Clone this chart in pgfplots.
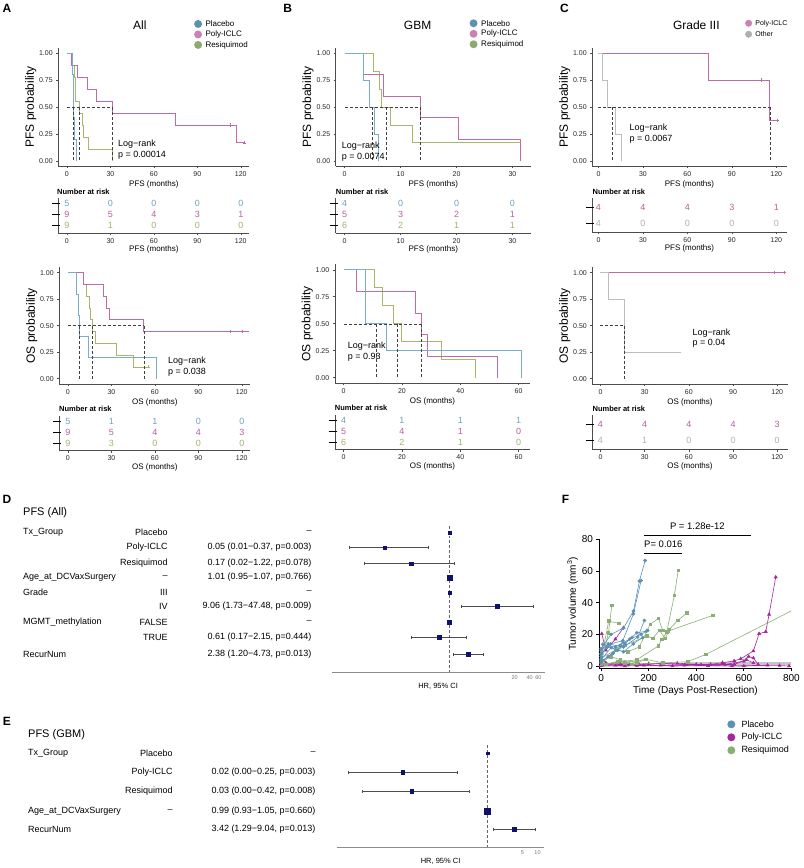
\documentclass[border=0pt]{standalone}
\usepackage{pgfplots}
\pgfplotsset{compat=1.18}
\usepackage{fontspec}
\setmainfont{Liberation Sans}
\setsansfont{Liberation Sans}

\definecolor{cPla}{HTML}{7AADC9}
\definecolor{cPol}{HTML}{C06BA7}
\definecolor{cRes}{HTML}{A5B96C}
\definecolor{cOth}{HTML}{BDBDBD}
\definecolor{rPla}{HTML}{6DA3C4}
\definecolor{rPol}{HTML}{B5609C}
\definecolor{rRes}{HTML}{A2B266}
\definecolor{rOth}{HTML}{B0B0B0}
\definecolor{lPla}{HTML}{5E92B0}
\definecolor{lPol}{HTML}{C983B4}
\definecolor{lRes}{HTML}{8EAA72}
\definecolor{lOth}{HTML}{AFAFAF}
\definecolor{fPla}{HTML}{5A91B4}
\definecolor{fPol}{HTML}{A4279F}
\definecolor{fRes}{HTML}{8BAE74}
\definecolor{navy}{HTML}{10106E}

\pgfplotsset{
  km/.style={scale only axis, anchor=south west,
    axis x line*=bottom, axis y line*=left,
    axis line style={black!70, line width=0.5pt},
    tick style={black!70, line width=0.5pt},
    tick align=outside, major tick length=2pt,
    ymin=-0.05, ymax=1.05, ytick={0,0.25,0.5,0.75,1},
    yticklabels={0.00,0.25,0.50,0.75,1.00},
    tick label style={font=\fontsize{7}{8}\selectfont, text=black!85},
    /pgf/number format/assume math mode=true,
    xlabel style={font=\fontsize{8}{9}\selectfont, yshift=3pt},
    ylabel style={font=\fontsize{12}{13}\selectfont, yshift=-4pt},
  },
  rt/.style={scale only axis, anchor=south west,
    axis x line*=bottom, axis y line*=left,
    axis line style={black!70, line width=0.5pt},
    tick style={black!70, line width=0.5pt},
    tick align=outside, major tick length=2pt,
    ytick=\empty, clip=false,
    tick label style={font=\fontsize{7}{8}\selectfont, text=black!85},
    /pgf/number format/assume math mode=true,
    xlabel style={font=\fontsize{8}{9}\selectfont, yshift=4pt},
  },
  km line/.style={const plot, line width=0.7pt, mark=none},
  med/.style={densely dashed, black!75, line width=0.4pt, mark=none},
  cens/.style={only marks, mark=+, mark size=1.6pt, line width=0.5pt},
  fp/.style={fPla, line width=0.6pt, mark=*, mark size=1.5pt},
  fq/.style={fPol, line width=0.6pt, mark=triangle*, mark size=1.7pt},
  fr/.style={fRes, line width=0.6pt, mark=square*, mark size=1.3pt},
}

\newcommand{\riskrow}[2]{\addplot[draw=none, mark=none, nodes near coords, point meta=explicit symbolic, nodes near coords style={anchor=center, text=#1, font=\fontsize{9}{9}\selectfont}] coordinates {#2};}

\begin{document}
\begin{tikzpicture}
\path (0pt,0pt) rectangle (800pt,-868pt);

% ================= A PFS
\begin{axis}[km, at={(58.3pt,-166.4pt)}, width=191.4pt, height=118.8pt, xmin=-6, xmax=126,
  xtick={0,30,60,90,120}, xlabel={PFS (months)}, ylabel={PFS probability}]
\addplot[km line, cRes] coordinates {(0,1)(3,0.889)(5,0.778)(5.5,0.667)(6,0.556)(8.3,0.444)(10.5,0.333)(11,0.222)(15,0.111)(31.3,0)};
\addplot[km line, cPol] coordinates {(0,1)(3,0.889)(7,0.778)(14,0.667)(20,0.556)(31.5,0.444)(75,0.333)(117,0.167)(122.5,0.167)};
\addplot[km line, cPla] coordinates {(0,1)(4,0.8)(4.3,0.6)(4.6,0.4)(5.2,0.2)(6.2,0)};
\addplot[cens, cPol] coordinates {(113,0.333)(122.5,0.167)};
\addplot[med] coordinates {(0,0.5)(31.5,0.5)};
\addplot[med] coordinates {(4.6,0.5)(4.6,0)};
\addplot[med] coordinates {(8.3,0.5)(8.3,0)};
\addplot[med] coordinates {(31.5,0.5)(31.5,0)};
\end{axis}
\begin{axis}[rt, at={(58.3pt,-233pt)}, width=191.4pt, height=35pt, xmin=-6, xmax=126, ymin=0.3636, ymax=3.545,
  xtick={0,30,60,90,120}, xlabel={PFS (months)}]
\riskrow{rPla}{(0,3)[5] (30,3)[0] (60,3)[0] (90,3)[0] (120,3)[0]}
\riskrow{rPol}{(0,2)[9] (30,2)[5] (60,2)[4] (90,2)[3] (120,2)[1]}
\riskrow{rRes}{(0,1)[9] (30,1)[1] (60,1)[0] (90,1)[0] (120,1)[0]}
\draw[black, line width=1.1pt] (axis cs:-6,3) ++(-6pt,0pt) -- ++(8pt,0pt);
\draw[black, line width=1.1pt] (axis cs:-6,2) ++(-6pt,0pt) -- ++(8pt,0pt);
\draw[black, line width=1.1pt] (axis cs:-6,1) ++(-6pt,0pt) -- ++(8pt,0pt);
\end{axis}

% ================= A OS
\begin{axis}[km, at={(59.3pt,-384.3pt)}, width=191.4pt, height=116.6pt, xmin=-6, xmax=126,
  xtick={0,30,60,90,120}, xlabel={OS (months)}, ylabel={OS probability}]
\addplot[km line, cRes] coordinates {(0,1)(10.3,0.889)(12.6,0.778)(15,0.667)(15.5,0.556)(17,0.444)(18.8,0.333)(33.4,0.222)(45,0.111)(55.4,0.111)};
\addplot[km line, cPol] coordinates {(0,1)(10.8,0.889)(24.5,0.778)(26.8,0.667)(28.6,0.556)(52.4,0.444)(125,0.444)};
\addplot[km line, cPla] coordinates {(0,1)(5.7,0.8)(6.9,0.6)(7.6,0.4)(14.2,0.2)(61,0)};
\addplot[cens, cPol] coordinates {(112,0.444)(120,0.444)};
\addplot[cens, cRes] coordinates {(55.4,0.111)};
\addplot[med] coordinates {(0,0.5)(52.4,0.5)};
\addplot[med] coordinates {(7.6,0.5)(7.6,0)};
\addplot[med] coordinates {(17,0.5)(17,0)};
\addplot[med] coordinates {(52.4,0.5)(52.4,0)};
\end{axis}
\begin{axis}[rt, at={(59.3pt,-451pt)}, width=191.4pt, height=35pt, xmin=-6, xmax=126, ymin=0.3636, ymax=3.545,
  xtick={0,30,60,90,120}, xlabel={OS (months)}]
\riskrow{rPla}{(0,3)[5] (30,3)[1] (60,3)[1] (90,3)[0] (120,3)[0]}
\riskrow{rPol}{(0,2)[9] (30,2)[5] (60,2)[4] (90,2)[4] (120,2)[3]}
\riskrow{rRes}{(0,1)[9] (30,1)[3] (60,1)[0] (90,1)[0] (120,1)[0]}
\draw[black, line width=1.1pt] (axis cs:-6,3) ++(-6pt,0pt) -- ++(8pt,0pt);
\draw[black, line width=1.1pt] (axis cs:-6,2) ++(-6pt,0pt) -- ++(8pt,0pt);
\draw[black, line width=1.1pt] (axis cs:-6,1) ++(-6pt,0pt) -- ++(8pt,0pt);
\end{axis}

% ================= B PFS
\begin{axis}[km, at={(336pt,-166.4pt)}, width=195.4pt, height=118.8pt, xmin=-1.6, xmax=33.3,
  xtick={0,10,20,30}, xlabel={PFS (months)}, ylabel={PFS probability}]
\addplot[km line, cRes] coordinates {(0,1)(5.2,0.833)(6.2,0.667)(6.5,0.5)(8.2,0.333)(12.1,0.167)(31.5,0)};
\addplot[km line, cPol] coordinates {(0,1)(3.4,0.8)(7,0.6)(13.5,0.4)(20.4,0.2)(31.5,0)};
\addplot[km line, cPla] coordinates {(0,1)(3.4,0.75)(4.5,0.5)(5.3,0.25)(6.1,0)};
\addplot[med] coordinates {(0,0.5)(13.5,0.5)};
\addplot[med] coordinates {(4.9,0.5)(4.9,0)};
\addplot[med] coordinates {(7.35,0.5)(7.35,0)};
\addplot[med] coordinates {(13.5,0.5)(13.5,0)};
\end{axis}
\begin{axis}[rt, at={(336pt,-233pt)}, width=195.4pt, height=35pt, xmin=-1.6, xmax=33.3, ymin=0.3636, ymax=3.545,
  xtick={0,10,20,30}, xlabel={PFS (months)}]
\riskrow{rPla}{(0,3)[4] (10,3)[0] (20,3)[0] (30,3)[0]}
\riskrow{rPol}{(0,2)[5] (10,2)[3] (20,2)[2] (30,2)[1]}
\riskrow{rRes}{(0,1)[6] (10,1)[2] (20,1)[1] (30,1)[1]}
\draw[black, line width=1.1pt] (axis cs:-1.6,3) ++(-6pt,0pt) -- ++(8pt,0pt);
\draw[black, line width=1.1pt] (axis cs:-1.6,2) ++(-6pt,0pt) -- ++(8pt,0pt);
\draw[black, line width=1.1pt] (axis cs:-1.6,1) ++(-6pt,0pt) -- ++(8pt,0pt);
\end{axis}

% ================= B OS
\begin{axis}[km, at={(335.1pt,-383.4pt)}, width=195.6pt, height=118.8pt, xmin=-3.05, xmax=64,
  xtick={0,20,40,60}, xlabel={OS (months)}, ylabel={OS probability}]
\addplot[km line, cRes] coordinates {(0,1)(10.4,0.833)(13.1,0.667)(16.9,0.5)(19.8,0.333)(33.5,0.167)(45.3,0)};
\addplot[km line, cPol] coordinates {(0,1)(4.3,0.8)(24.6,0.6)(26.6,0.4)(28.7,0.2)(52.6,0)};
\addplot[km line, cPla] coordinates {(0,1)(7.5,0.5)(14.6,0.25)(60.9,0)};
\addplot[med] coordinates {(0,0.5)(26.6,0.5)};
\addplot[med] coordinates {(11.05,0.5)(11.05,0)};
\addplot[med] coordinates {(18.35,0.5)(18.35,0)};
\addplot[med] coordinates {(26.6,0.5)(26.6,0)};
\end{axis}
\begin{axis}[rt, at={(335.1pt,-450pt)}, width=195.6pt, height=35pt, xmin=-3.05, xmax=64, ymin=0.3636, ymax=3.545,
  xtick={0,20,40,60}, xlabel={OS (months)}]
\riskrow{rPla}{(0,3)[4] (20,3)[1] (40,3)[1] (60,3)[1]}
\riskrow{rPol}{(0,2)[5] (20,2)[4] (40,2)[1] (60,2)[0]}
\riskrow{rRes}{(0,1)[6] (20,1)[2] (40,1)[1] (60,1)[0]}
\draw[black, line width=1.1pt] (axis cs:-3.05,3) ++(-6pt,0pt) -- ++(8pt,0pt);
\draw[black, line width=1.1pt] (axis cs:-3.05,2) ++(-6pt,0pt) -- ++(8pt,0pt);
\draw[black, line width=1.1pt] (axis cs:-3.05,1) ++(-6pt,0pt) -- ++(8pt,0pt);
\end{axis}

% ================= C PFS
\begin{axis}[km, at={(592.8pt,-166.4pt)}, width=194.6pt, height=118.8pt, xmin=-4.2, xmax=127,
  xtick={0,30,60,90,120}, xlabel={PFS (months)}, ylabel={PFS probability}]
\addplot[km line, cPol] coordinates {(0,1)(74.3,0.75)(115.6,0.375)(120.5,0.375)};
\addplot[km line, cOth] coordinates {(0,1)(2.3,0.75)(6.3,0.5)(11.7,0.25)(15.3,0)};
\addplot[cens, cPol] coordinates {(110,0.75)(120.5,0.375)};
\addplot[med] coordinates {(0,0.5)(115.6,0.5)};
\addplot[med] coordinates {(9,0.5)(9,0)};
\addplot[med] coordinates {(115.6,0.5)(115.6,0)};
\end{axis}
\begin{axis}[rt, at={(592.8pt,-232pt)}, width=194.6pt, height=34pt, xmin=-4.2, xmax=127, ymin=0.5, ymax=2.625,
  xtick={0,30,60,90,120}, xlabel={PFS (months)}]
\riskrow{rPol}{(0,2)[4] (30,2)[4] (60,2)[4] (90,2)[3] (120,2)[1]}
\riskrow{rOth}{(0,1)[4] (30,1)[0] (60,1)[0] (90,1)[0] (120,1)[0]}
\draw[black, line width=1.1pt] (axis cs:-4.2,2) ++(-6pt,0pt) -- ++(8pt,0pt);
\draw[black, line width=1.1pt] (axis cs:-4.2,1) ++(-6pt,0pt) -- ++(8pt,0pt);
\end{axis}

% ================= C OS
\begin{axis}[km, at={(592.9pt,-384.3pt)}, width=195.4pt, height=116.6pt, xmin=-5.5, xmax=127,
  xtick={0,30,60,90,120}, xlabel={OS (months)}, ylabel={OS probability}]
\addplot[km line, cPol] coordinates {(0,1)(125,1)};
\addplot[km line, cOth] coordinates {(0,1)(5.5,0.75)(16,0.25)(55,0.25)};
\addplot[cens, cPol] coordinates {(118,1)(125,1)};
\addplot[med] coordinates {(0,0.5)(16,0.5)};
\addplot[med] coordinates {(16,0.5)(16,0)};
\end{axis}
\begin{axis}[rt, at={(592.9pt,-450pt)}, width=195.4pt, height=35pt, xmin=-5.5, xmax=127, ymin=0.4375, ymax=2.625,
  xtick={0,30,60,90,120}, xlabel={OS (months)}]
\riskrow{rPol}{(0,2)[4] (30,2)[4] (60,2)[4] (90,2)[4] (120,2)[3]}
\riskrow{rOth}{(0,1)[4] (30,1)[1] (60,1)[0] (90,1)[0] (120,1)[0]}
\draw[black, line width=1.1pt] (axis cs:-5.5,2) ++(-6pt,0pt) -- ++(8pt,0pt);
\draw[black, line width=1.1pt] (axis cs:-5.5,1) ++(-6pt,0pt) -- ++(8pt,0pt);
\end{axis}

% ---------- KM annotations
\begin{scope}[x=1pt, y=1pt, every node/.style={inner sep=0pt}]
\node[font=\bfseries\fontsize{12}{12}\selectfont] at (7,-8) {A};
\node[font=\bfseries\fontsize{12}{12}\selectfont] at (288,-8) {B};
\node[font=\bfseries\fontsize{12}{12}\selectfont] at (565,-8) {C};
\node[font=\fontsize{12}{12}\selectfont] at (140,-25) {All};
\node[font=\fontsize{12}{12}\selectfont] at (418,-25) {GBM};
\node[font=\fontsize{12}{12}\selectfont] at (697,-25) {Grade III};
\fill[lPla] (198.3,-24) circle (4); \node[anchor=west, font=\fontsize{8}{8}\selectfont] at (205.5,-24) {Placebo};
\fill[lPol] (198.3,-34.5) circle (4); \node[anchor=west, font=\fontsize{8}{8}\selectfont] at (205.5,-34.5) {Poly-ICLC};
\fill[lRes] (198.3,-45) circle (4); \node[anchor=west, font=\fontsize{8}{8}\selectfont] at (205.5,-45) {Resiquimod};
\fill[lPla] (474,-23.3) circle (4); \node[anchor=west, font=\fontsize{8}{8}\selectfont] at (481.5,-23.3) {Placebo};
\fill[lPol] (474,-33.8) circle (4); \node[anchor=west, font=\fontsize{8}{8}\selectfont] at (481.5,-33.8) {Poly-ICLC};
\fill[lRes] (474,-44.3) circle (4); \node[anchor=west, font=\fontsize{8}{8}\selectfont] at (481.5,-44.3) {Resiquimod};
\fill[lPol] (749.3,-23.3) circle (3.5); \node[anchor=west, font=\fontsize{7}{7}\selectfont] at (756,-23.3) {Poly-ICLC};
\fill[lOth] (749.3,-34.3) circle (3.5); \node[anchor=west, font=\fontsize{7}{7}\selectfont] at (756,-34.3) {Other};
\node[anchor=west, font=\fontsize{9}{9}\selectfont] at (118,-144) {Log−rank};
\node[anchor=west, font=\fontsize{9}{9}\selectfont] at (118,-155.5) {p = 0.00014};
\node[anchor=west, font=\fontsize{9}{9}\selectfont] at (168,-361.5) {Log−rank};
\node[anchor=west, font=\fontsize{9}{9}\selectfont] at (168,-373) {p = 0.038};
\node[anchor=west, font=\fontsize{9}{9}\selectfont] at (342,-146.5) {Log−rank};
\node[anchor=west, font=\fontsize{9}{9}\selectfont] at (342,-157.5) {p = 0.0074};
\node[anchor=west, font=\fontsize{9}{9}\selectfont] at (348,-346.5) {Log−rank};
\node[anchor=west, font=\fontsize{9}{9}\selectfont] at (348,-357.5) {p = 0.93};
\node[anchor=west, font=\fontsize{9}{9}\selectfont] at (630,-128) {Log−rank};
\node[anchor=west, font=\fontsize{9}{9}\selectfont] at (630,-139) {p = 0.0067};
\node[anchor=west, font=\fontsize{9}{9}\selectfont] at (693,-333) {Log−rank};
\node[anchor=west, font=\fontsize{9}{9}\selectfont] at (693,-344) {p = 0.04};
\node[anchor=west, font=\bfseries\fontsize{7.5}{8}\selectfont] at (57,-192) {Number at risk};
\node[anchor=west, font=\bfseries\fontsize{7.5}{8}\selectfont] at (59,-409) {Number at risk};
\node[anchor=west, font=\bfseries\fontsize{7.5}{8}\selectfont] at (336,-192) {Number at risk};
\node[anchor=west, font=\bfseries\fontsize{7.5}{8}\selectfont] at (335,-408.5) {Number at risk};
\node[anchor=west, font=\bfseries\fontsize{7.5}{8}\selectfont] at (593,-192) {Number at risk};
\node[anchor=west, font=\bfseries\fontsize{7.5}{8}\selectfont] at (593,-409) {Number at risk};
\end{scope}

% ================= D forest
\begin{axis}[scale only axis, anchor=south west, at={(332pt,-673pt)}, width=213pt, height=148pt,
  xmode=log, xmin=0.00437, xmax=79.4, ymin=-673, ymax=-525,
  axis x line*=bottom, axis y line=none, axis line style={black!45, line width=0.6pt},
  xtick={20,40,60}, xticklabels={20,40,60}, major tick length=0pt,
  tick label style={font=\fontsize{5.5}{6}\selectfont, text=black!55},
  xlabel={HR, 95\% CI}, xlabel style={font=\fontsize{7.5}{8}\selectfont, yshift=3pt}, clip=false]
\addplot[densely dashed, black!60, line width=0.5pt] coordinates {(1,-526)(1,-673)};
\addplot[black!70, line width=0.5pt, mark=|, mark size=1.5pt, unbounded coords=jump] coordinates {
 (0.01,-548)(0.37,-548) (nan,nan) (0.02,-564)(1.22,-564) (nan,nan) (0.95,-578)(1.07,-578) (nan,nan)
 (1.73,-607)(47.48,-607) (nan,nan) (0.17,-638)(2.15,-638) (nan,nan) (1.20,-655)(4.73,-655)};
\addplot[only marks, mark=square*, navy, mark size=1.3pt] coordinates {(1,-533)};
\addplot[only marks, mark=square*, navy, mark size=1.6pt] coordinates {(1,-593)(0.05,-548)(0.17,-564)};
\addplot[only marks, mark=square*, navy, mark size=2pt] coordinates {(1,-623)(9.06,-607)(0.61,-638)(2.38,-655)};
\addplot[only marks, mark=square*, navy, mark size=2.7pt] coordinates {(1.01,-578)};
\end{axis}

\begin{scope}[x=1pt, y=1pt, every node/.style={inner sep=0pt, font=\fontsize{9}{10}\selectfont}]
\node[font=\bfseries\fontsize{12}{12}\selectfont] at (7,-500) {D};
\node[anchor=west, font=\fontsize{11}{11}\selectfont] at (23,-513) {PFS (All)};
\node[anchor=west] at (23,-533) {Tx\_Group};
\node[anchor=east] at (168,-533) {Placebo};
\node[anchor=east] at (312,-533) {–};
\node[anchor=east] at (168,-548) {Poly-ICLC};
\node[anchor=east] at (312,-548) {0.05 (0.01−0.37, p=0.003)};
\node[anchor=east] at (168,-564) {Resiquimod};
\node[anchor=east] at (312,-564) {0.17 (0.02−1.22, p=0.078)};
\node[anchor=west] at (23,-578) {Age\_at\_DCVaxSurgery};
\node[anchor=east] at (168,-578) {–};
\node[anchor=east] at (312,-578) {1.01 (0.95−1.07, p=0.766)};
\node[anchor=west] at (23,-593) {Grade};
\node[anchor=east] at (168,-593) {III};
\node[anchor=east] at (312,-593) {–};
\node[anchor=east] at (168,-607) {IV};
\node[anchor=east] at (312,-607) {9.06 (1.73−47.48, p=0.009)};
\node[anchor=west] at (23,-623) {MGMT\_methylation};
\node[anchor=east] at (168,-623) {FALSE};
\node[anchor=east] at (312,-623) {–};
\node[anchor=east] at (168,-638) {TRUE};
\node[anchor=east] at (312,-638) {0.61 (0.17−2.15, p=0.444)};
\node[anchor=west] at (23,-655) {RecurNum};
\node[anchor=east] at (312,-655) {2.38 (1.20−4.73, p=0.013)};
\end{scope}

% ================= E forest
\begin{axis}[scale only axis, anchor=south west, at={(337pt,-848pt)}, width=208pt, height=102pt,
  xmode=log, xmin=0.00095, xmax=13.8, ymin=-848, ymax=-746,
  axis x line*=bottom, axis y line=none, axis line style={black!45, line width=0.6pt},
  xtick={5,10}, xticklabels={5,10}, major tick length=0pt,
  tick label style={font=\fontsize{5.5}{6}\selectfont, text=black!55},
  xlabel={HR, 95\% CI}, xlabel style={font=\fontsize{7.5}{8}\selectfont, yshift=3pt}, clip=false]
\addplot[densely dashed, black!60, line width=0.5pt] coordinates {(1,-746)(1,-848)};
\addplot[black!70, line width=0.5pt, mark=|, mark size=1.5pt, unbounded coords=jump] coordinates {
 (0.0016,-773)(0.25,-773) (nan,nan) (0.0031,-792)(0.42,-792) (nan,nan) (0.93,-812)(1.05,-812) (nan,nan) (1.29,-830)(9.04,-830)};
\addplot[only marks, mark=square*, navy, mark size=1.3pt] coordinates {(1,-754)};
\addplot[only marks, mark=square*, navy, mark size=1.7pt] coordinates {(0.02,-773)(0.03,-792)};
\addplot[only marks, mark=square*, navy, mark size=2pt] coordinates {(3.42,-830)};
\addplot[only marks, mark=square*, navy, mark size=2.7pt] coordinates {(0.99,-812)};
\end{axis}

\begin{scope}[x=1pt, y=1pt, every node/.style={inner sep=0pt, font=\fontsize{9}{10}\selectfont}]
\node[font=\bfseries\fontsize{12}{12}\selectfont] at (7,-722) {E};
\node[anchor=west, font=\fontsize{11}{11}\selectfont] at (28,-735) {PFS (GBM)};
\node[anchor=west] at (28,-754) {Tx\_Group};
\node[anchor=east] at (173,-754) {Placebo};
\node[anchor=east] at (316,-754) {–};
\node[anchor=east] at (173,-773) {Poly-ICLC};
\node[anchor=east] at (316,-773) {0.02 (0.00−0.25, p=0.003)};
\node[anchor=east] at (173,-792) {Resiquimod};
\node[anchor=east] at (316,-792) {0.03 (0.00−0.42, p=0.008)};
\node[anchor=west] at (28,-812) {Age\_at\_DCVaxSurgery};
\node[anchor=east] at (173,-812) {–};
\node[anchor=east] at (316,-812) {0.99 (0.93−1.05, p=0.660)};
\node[anchor=west] at (28,-830) {RecurNum};
\node[anchor=east] at (316,-830) {3.42 (1.29−9.04, p=0.013)};
\end{scope}

% ================= F tumor volume
\begin{axis}[scale only axis, anchor=south west, at={(600pt,-669pt)}, width=192.2pt, height=129pt,
  xmin=-7, xmax=800, ymin=-1.5, ymax=80,
  axis x line*=bottom, axis y line*=left, axis line style={black, line width=1pt},
  tick style={black, line width=0.9pt}, tick align=outside, major tick length=3pt,
  xtick={0,200,400,600,800}, ytick={0,20,40,60,80},
  tick label style={font=\fontsize{10}{11}\selectfont},
  /pgf/number format/assume math mode=true,
  xlabel={Time (Days Post-Resection)}, ylabel={Tumor volume (mm\textsuperscript{3})},
  label style={font=\fontsize{10}{11}\selectfont},
  xlabel style={yshift=3pt}, ylabel style={yshift=-3pt},
  clip marker paths=true]
\addplot[black!22, line width=2.5pt] coordinates {(350,1.5)(800,1.5)};
\addplot[fq] coordinates {(3,20.4)(20,10)(60,17)(94,24.2)};
\addplot[fq] coordinates {(0,1)(80,1.5)(160,1)(260,1.5)(360,1)(460,1)(510,2.1)(559,3.2)(587,4.6)(640,9.5)(664,20.4)(692,21.7)(706,32.6)(734,56.2)};
\addplot[fq] coordinates {(0,0.5)(120,1)(250,0.5)(400,1)(520,1)(600,3)(620,6)(640,5)(660,1)};
\addplot[fq] coordinates {(0,0)(150,0.3)(300,0)(450,0.2)(600,0)(750,0.3)(790,0)};
\addplot[fq] coordinates {(0,2)(60,0.5)(200,1.5)(320,1.8)(420,0.8)(560,1)(610,4)(640,2)};
\addplot[fq] coordinates {(0,0.2)(100,0)(350,0.5)(550,0)(700,0.5)};
\addplot[fq] coordinates {(0,5)(20,2)(80,1)(180,0.5)};
\addplot[fr] coordinates {(0,2)(31,21)(45,38.3)};
\addplot[fr] coordinates {(0,4)(32,28.4)(74,27)};
\addplot[fr] coordinates {(0,5)(60,10)(112,9)(160,12)(206,26.3)(241,30.1)(259,22.5)(276,21.5)(308,44.8)(324,60.4)};
\addplot[fr] coordinates {(0,3)(100,13)(192,19)(217,17.5)(245,22.5)(270,17.5)(287,23.2)(322,28.8)(361,33.5)};
\addplot[fr] coordinates {(0,1)(150,4)(240,12.6)(255,16.8)(280,22)(469,32)};
\addplot[fr] coordinates {(0,1)(100,2)(189,4.2)(260,2)(364,2.7)(441,7.4)(860,39.5)};
\addplot[fr] coordinates {(0,2)(40,6)(80,4)(150,2)(189,4.2)};
\addplot[fr] coordinates {(0,3)(20,1)(70,3)(130,1)(260,2)};
\addplot[fp] coordinates {(0,11)(42,20)(94,24)(136,34.7)(161,53.7)(185,66.7)};
\addplot[fp] coordinates {(0,8)(40,14)(91,16)(136,33)(168,54)};
\addplot[fp] coordinates {(0,10)(30,14)(94,12)(154,18.3)(182,28.8)};
\addplot[fp] coordinates {(0,6)(7,13.7)(60,12)(120,17)(168,20)(196,22.5)};
\addplot[fp] coordinates {(0,4)(42,11.6)(94,9)(135,14)(175,18)};
\addplot[fp] coordinates {(0,3)(50,8)(100,14)(150,21)(190,22)};
\addplot[fp] coordinates {(0,7.4)(25,12)(70,10)(91,15.8)};
\addplot[fp] coordinates {(0,2)(30,6)(80,13)(130,18)};
\end{axis}

\begin{scope}[x=1pt, y=1pt, every node/.style={inner sep=0pt}]
\node[font=\bfseries\fontsize{12}{12}\selectfont] at (566,-500) {F};
\draw[black, line width=1.2pt] (645,-536) -- (752,-536);
\node[anchor=south, font=\fontsize{9.5}{10}\selectfont] at (698,-530) {P = 1.28e-12};
\draw[black, line width=1.2pt] (645,-554) -- (683,-554);
\node[anchor=south, font=\fontsize{9.5}{10}\selectfont] at (664,-548) {P= 0.016};
\fill[fPla] (732,-725) circle (4); \node[anchor=west, font=\fontsize{9}{9}\selectfont] at (742,-725) {Placebo};
\fill[fPol] (732,-738) circle (4); \node[anchor=west, font=\fontsize{9}{9}\selectfont] at (742,-738) {Poly-ICLC};
\fill[fRes] (732,-751) circle (4); \node[anchor=west, font=\fontsize{9}{9}\selectfont] at (742,-751) {Resiquimod};
\end{scope}
\end{tikzpicture}
\end{document}
